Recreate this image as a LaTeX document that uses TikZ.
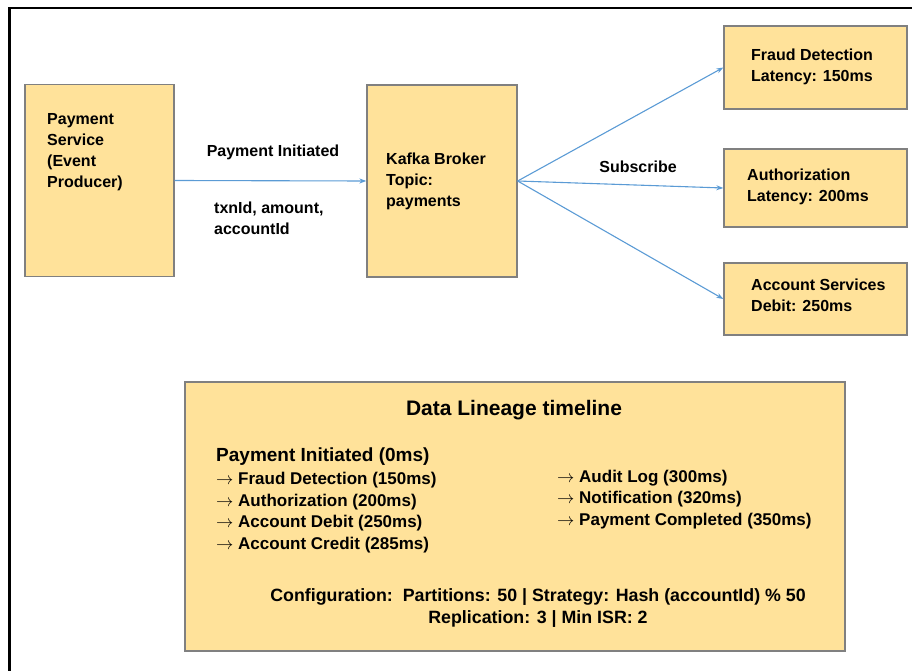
\documentclass[tikz,border=0pt]{standalone}
\usepackage{fontspec}
\setmainfont{Liberation Sans}
\usetikzlibrary{arrows.meta}
\definecolor{boxfill}{RGB}{255,226,154}
\definecolor{boxline}{RGB}{128,128,128}
\definecolor{flow}{RGB}{91,155,213}
\newcommand{\nextstep}{$\rightarrow$\ }
\begin{document}
\begin{tikzpicture}[x=1pt,y=-1pt,
		box/.style={draw=boxline,fill=boxfill,line width=1.3pt,inner sep=0pt},
		txt/.style={inner sep=0pt,align=left,font=\bfseries\fontsize{16}{21}\selectfont},
		lst/.style={inner sep=0pt,align=left,font=\bfseries\fontsize{17}{21.5}\selectfont},
		flowarrow/.style={draw=flow,line width=1.1pt,-{Stealth[length=7pt,width=5pt]}}]
		\useasboundingbox (0,0) rectangle (912,671);
		\draw [line width=2.2pt] (9.5,671) -- (9.5,8) -- (912,8);
		\node[box,minimum width=149pt,minimum height=192pt] (prod) at (99.5,180.5) {};
		\node[box,minimum width=150pt,minimum height=192pt] (kafka) at (442,181) {};
		\node[box,minimum width=183pt,minimum height=83pt] (fraud) at (815.5,67.5) {};
		\node[box,minimum width=183pt,minimum height=78pt] (auth) at (815.5,188) {};
		\node[box,minimum width=183pt,minimum height=72pt] (acct) at (815.5,299) {};
		\node[box,minimum width=660pt,minimum height=269pt] (lineage) at (515,516.5) {};
		\node[txt,anchor=west] (prodText) at (47,152) {Payment\\Service\\(Event\\Producer)};
		\node[txt,anchor=west] (kafkaText) at (386,181) {Kafka Broker\\Topic:\\payments};
		\node[txt,anchor=west] (fraudText) at (751,66.5) {Fraud Detection\\Latency: 150ms};
		\node[txt,anchor=west] (authText) at (747,187) {Authorization\\Latency: 200ms};
		\node[txt,anchor=west] (acctText) at (751,295.5) {Account Services\\Debit: 250ms};
		\draw [flowarrow] (prod.east) -- (kafka.west);
		\draw [flowarrow] (kafka.east) -- (fraud.west);
		\draw [flowarrow] (kafka.east) -- (auth.west);
		\draw [flowarrow] (kafka.east) -- (acct.west);
		\node[txt] (eventLabel) at (273,152) {Payment Initiated};
		\node[txt,anchor=west] (fieldLabel) at (214,218.5) {txnId, amount,\\accountId};
		\node[txt] (subLabel) at (638,167) {Subscribe};
		\node[inner sep=0pt,font=\bfseries\fontsize{21}{25}\selectfont] (title) at (514,410) {Data Lineage timeline};
		\node[inner sep=0pt,anchor=west,font=\bfseries\fontsize{19}{23}\selectfont] (start) at (216,457) {Payment Initiated (0ms)};
		\node[lst,anchor=west] (stepsA) at (216,512.5) {\nextstep Fraud Detection (150ms)\\\nextstep Authorization (200ms)\\\nextstep Account Debit (250ms)\\\nextstep Account Credit (285ms)};
		\node[lst,anchor=west] (stepsB) at (557,499.5) {\nextstep Audit Log (300ms)\\\nextstep Notification (320ms)\\\nextstep Payment Completed (350ms)};
		\node[lst,align=center,font=\bfseries\fontsize{17.8}{22}\selectfont] (config) at (538,608) {Configuration:\ \ Partitions: 50 | Strategy: Hash (accountId) \% 50\\Replication: 3 | Min ISR: 2};
\end{tikzpicture}
\end{document}
